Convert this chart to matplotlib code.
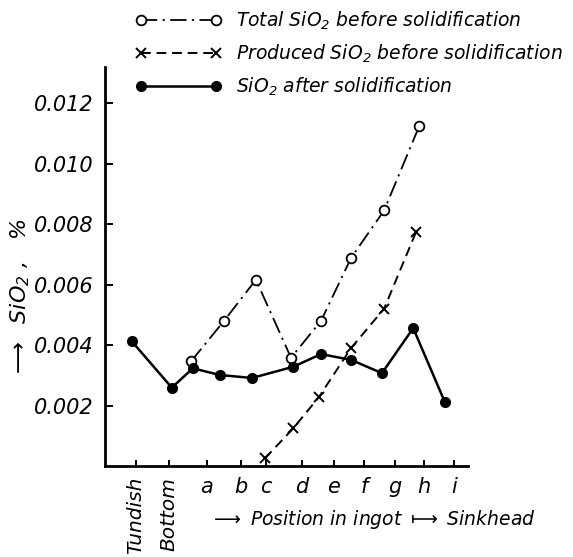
import matplotlib
matplotlib.use('Agg')
import matplotlib.pyplot as plt

plt.rcParams['font.family'] = ['DejaVu Sans']
plt.rcParams['font.style'] = 'italic'
plt.rcParams['mathtext.fontset'] = 'dejavusans'

# positions along the ingot (hand drawn chart, points sit a bit off the ticks)
tick_pos = [1.03, 2.13, 3.40, 4.53, 5.37, 6.57, 7.63, 8.63, 9.67, 10.63, 11.63]
tick_labels = ['Tundish', 'Bottom', 'a', 'b', 'c', 'd', 'e', 'f', 'g', 'h', 'i']

# SiO2 after solidification (tundish, bottom, a..i)
after_x = [0.90, 2.23, 2.93, 3.83, 4.90, 6.27, 7.20, 8.20, 9.23, 10.27, 11.33]
after_y = [0.00412, 0.00259, 0.00323, 0.00301, 0.00291, 0.00328, 0.00370,
           0.00351, 0.00307, 0.00456, 0.00210]

# total SiO2 before solidification (a..h)
total_x = [2.87, 3.97, 5.03, 6.20, 7.20, 8.20, 9.30, 10.47]
total_y = [0.00346, 0.00480, 0.00616, 0.00358, 0.00480, 0.00688, 0.00845, 0.01124]

# produced SiO2 before solidification (c..h)
prod_x = [5.33, 6.27, 7.13, 8.20, 9.30, 10.37]
prod_y = [0.00025, 0.00124, 0.00228, 0.00390, 0.00520, 0.00775]

yticks = [0.002, 0.004, 0.006, 0.008, 0.010, 0.012]

fig = plt.figure(figsize=(5.73, 5.57), dpi=100)
ax = fig.add_axes([0.183, 0.1634, 0.634, 0.716])

l1, = ax.plot(total_x, total_y, color='black', lw=1.3, linestyle=(0, (9, 3, 1.2, 3)),
              marker='o', ms=7, mfc='white', mec='black', mew=1.3)
l2, = ax.plot(prod_x, prod_y, color='black', lw=1.4, linestyle=(0, (5, 3)),
              marker='x', ms=7.5, mew=1.4)
l3, = ax.plot(after_x, after_y, color='black', lw=1.8, linestyle='-',
              marker='o', ms=7, mfc='black', mec='black')

ax.set_xlim(0, 12.1)
ax.set_ylim(0, 0.01319)

for s in ['top', 'right']:
    ax.spines[s].set_visible(False)
for s in ['left', 'bottom']:
    ax.spines[s].set_linewidth(2)

ax.set_yticks(yticks)
ax.set_yticklabels(['%.3f' % v for v in yticks])
ax.tick_params(axis='y', direction='in', length=6, width=1.4, pad=8, labelsize=15)
ax.set_xticks(tick_pos)
ax.set_xticklabels(tick_labels)
ax.tick_params(axis='x', direction='in', length=4.5, width=1.4, pad=8, labelsize=15)
for lab in ax.get_xticklabels()[:2]:
    lab.set_rotation(90)
    lab.set_fontsize(14.5)

ax.set_ylabel(r'$\longrightarrow$  SiO$_2$ ,   %', fontsize=16)
ax.yaxis.set_label_coords(-0.2, 0.42)

ax.text(0.289, -0.135, r'$\longrightarrow$ Position in ingot $\longmapsto$ Sinkhead',
        transform=ax.transAxes, ha='left', va='center', fontsize=13.5)

fig.legend([l1, l2, l3],
           ['Total SiO$_2$ before solidification',
            'Produced SiO$_2$ before solidification',
            'SiO$_2$ after solidification'],
           loc='upper left', bbox_to_anchor=(135 / 573, 1 - 10 / 557),
           frameon=False, numpoints=2, handlelength=4.6, handletextpad=0.8,
           borderpad=0, borderaxespad=0, labelspacing=0.55,
           prop={'family': 'DejaVu Sans', 'style': 'italic', 'size': 13.5})

fig.savefig('out.png', dpi=100)
